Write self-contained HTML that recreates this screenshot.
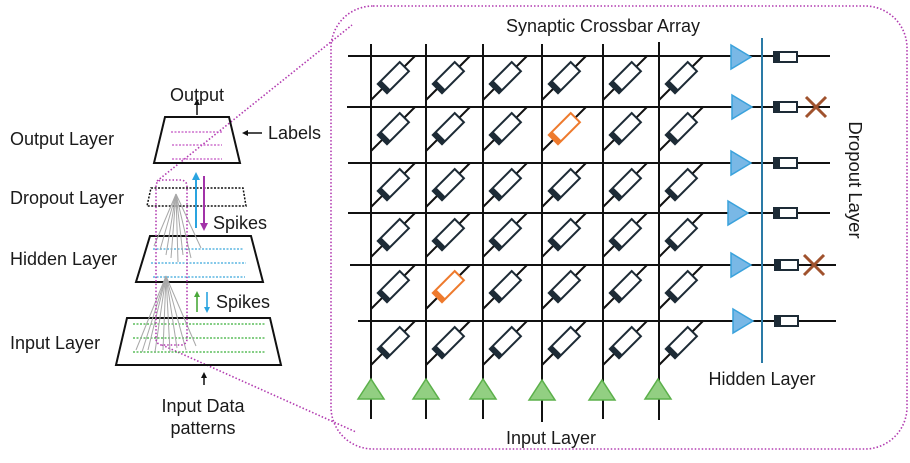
<!DOCTYPE html>
<html><head><style>
html,body{margin:0;padding:0;background:#fff;}
svg{display:block;}
text{font-family:"Liberation Sans",sans-serif;fill:#1a1a1a;}
</style></head><body>
<svg width="910" height="463" viewBox="0 0 910 463" xmlns="http://www.w3.org/2000/svg">
<defs>
<g id="r">
<line x1="0" y1="44" x2="44" y2="0" stroke="#111" stroke-width="2"/>
<g transform="translate(22,22) rotate(-45)">
<rect x="-15" y="-6.5" width="31" height="13" fill="#fff" stroke="#1d2b36" stroke-width="2"/>
<rect x="-15" y="-6.5" width="5" height="13" fill="#1d2b36"/>
</g>
</g>
<g id="ro">
<line x1="0" y1="44" x2="44" y2="0" stroke="#111" stroke-width="2"/>
<g transform="translate(22,22) rotate(-45)">
<rect x="-15" y="-6.5" width="31" height="13" fill="#fff" stroke="#ee7a2d" stroke-width="2"/>
<rect x="-15" y="-6.5" width="5" height="13" fill="#ee7a2d"/>
</g>
</g>
<g id="d">
<rect x="0" y="-5" width="23" height="10" fill="#fff" stroke="#1d2b36" stroke-width="2"/>
<rect x="0" y="-5" width="6" height="10" fill="#1d2b36"/>
</g>
<g id="bt"><polygon points="0,-12 20,0 0,12" fill="#79b8e6" stroke="#3aa2dc" stroke-width="1.5"/></g>
<g id="gt"><polygon points="-13,0 0,-20 13,0" fill="#92cf82" stroke="#5bb04a" stroke-width="1.5"/></g>
<g id="x"><line x1="-10" y1="-10" x2="10" y2="10" stroke="#a0522d" stroke-width="3"/><line x1="-10" y1="10" x2="10" y2="-10" stroke="#a0522d" stroke-width="3"/></g>
</defs>

<rect x="331" y="6" width="576" height="443" rx="42" fill="none" stroke="#b23bb0" stroke-width="1.6" stroke-dasharray="1.5,2"/>
<line x1="157" y1="181" x2="352" y2="25" stroke="#b23bb0" stroke-width="1.6" stroke-dasharray="1.5,2"/>
<line x1="162" y1="345" x2="356" y2="432" stroke="#b23bb0" stroke-width="1.6" stroke-dasharray="1.5,2"/>

<g stroke="#111" stroke-width="2">
<line x1="348" y1="56" x2="830" y2="56"/>
<line x1="347" y1="107" x2="830" y2="107"/>
<line x1="348" y1="163" x2="830" y2="163"/>
<line x1="348" y1="213" x2="830" y2="213"/>
<line x1="350" y1="265" x2="836" y2="265"/>
<line x1="358" y1="321" x2="836" y2="321"/>
<line x1="371" y1="44" x2="371" y2="419"/>
<line x1="426" y1="44" x2="426" y2="419"/>
<line x1="483" y1="44" x2="483" y2="419"/>
<line x1="542" y1="44" x2="542" y2="422"/>
<line x1="603" y1="44" x2="603" y2="419"/>
<line x1="659" y1="42" x2="659" y2="420"/>
</g>

<use href="#r" x="371" y="56"/><use href="#r" x="426" y="56"/><use href="#r" x="483" y="56"/><use href="#r" x="542" y="56"/><use href="#r" x="603" y="56"/><use href="#r" x="659" y="56"/>
<use href="#r" x="371" y="107"/><use href="#r" x="426" y="107"/><use href="#r" x="483" y="107"/><use href="#ro" x="542" y="107"/><use href="#r" x="603" y="107"/><use href="#r" x="659" y="107"/>
<use href="#r" x="371" y="163"/><use href="#r" x="426" y="163"/><use href="#r" x="483" y="163"/><use href="#r" x="542" y="163"/><use href="#r" x="603" y="163"/><use href="#r" x="659" y="163"/>
<use href="#r" x="371" y="213"/><use href="#r" x="426" y="213"/><use href="#r" x="483" y="213"/><use href="#r" x="542" y="213"/><use href="#r" x="603" y="213"/><use href="#r" x="659" y="213"/>
<use href="#r" x="371" y="265"/><use href="#ro" x="426" y="265"/><use href="#r" x="483" y="265"/><use href="#r" x="542" y="265"/><use href="#r" x="603" y="265"/><use href="#r" x="659" y="265"/>
<use href="#r" x="371" y="321"/><use href="#r" x="426" y="321"/><use href="#r" x="483" y="321"/><use href="#r" x="542" y="321"/><use href="#r" x="603" y="321"/><use href="#r" x="659" y="321"/>

<use href="#bt" x="731" y="57"/><use href="#bt" x="732" y="107"/><use href="#bt" x="731" y="163"/><use href="#bt" x="728" y="213"/><use href="#bt" x="731" y="265"/><use href="#bt" x="733" y="321"/>
<line x1="762" y1="38" x2="762" y2="363" stroke="#2a7aa6" stroke-width="2"/>
<use href="#d" x="774" y="57"/><use href="#d" x="774" y="107"/><use href="#d" x="774" y="163"/><use href="#d" x="774" y="213"/><use href="#d" x="775" y="265"/><use href="#d" x="775" y="321"/>
<use href="#x" x="816" y="107"/><use href="#x" x="814" y="265"/>

<use href="#gt" x="371" y="399"/><use href="#gt" x="426" y="399"/><use href="#gt" x="483" y="399"/><use href="#gt" x="542" y="400"/><use href="#gt" x="602" y="400"/><use href="#gt" x="658" y="399"/>

<text x="603" y="32" font-size="18" text-anchor="middle">Synaptic Crossbar Array</text>
<text x="762" y="385" font-size="18" text-anchor="middle">Hidden Layer</text>
<text x="551" y="444" font-size="18" text-anchor="middle">Input Layer</text>
<text transform="translate(849,180) rotate(90)" font-size="18.5" text-anchor="middle">Dropout Layer</text>

<g font-size="18">
<text x="197" y="101" text-anchor="middle">Output</text>
<text x="10" y="145">Output Layer</text>
<text x="10" y="204">Dropout Layer</text>
<text x="10" y="265">Hidden Layer</text>
<text x="10" y="349">Input Layer</text>
<text x="268" y="139">Labels</text>
<text x="213" y="229">Spikes</text>
<text x="216" y="308">Spikes</text>
<text x="203" y="412" text-anchor="middle">Input Data</text>
<text x="203" y="434" text-anchor="middle">patterns</text>
</g>
<g fill="none" stroke="#111" stroke-width="2">
<polygon points="165,117 229,117 240,163 154,163"/>
<polygon points="150,236 251,236 263,282 136,282"/>
<polygon points="127,318 270,318 281,365 116,365"/>
</g>
<polygon points="151,188 243,188 246,206 147,206" fill="none" stroke="#111" stroke-width="1.5" stroke-dasharray="2,1.5"/>
<line x1="197" y1="115" x2="197" y2="104" stroke="#111" stroke-width="1.5"/>
<polygon points="194,105 200,105 197,99" fill="#111"/>
<line x1="262" y1="133" x2="247" y2="133" stroke="#111" stroke-width="1.5"/>
<polygon points="248,130 248,136 242,133" fill="#111"/>
<line x1="204" y1="385" x2="204" y2="377" stroke="#111" stroke-width="1.5"/>
<polygon points="201,378 207,378 204,372" fill="#111"/>
<g stroke-width="1.3" stroke-dasharray="2,1.5" fill="none">
<g stroke="#c454c4"><line x1="171" y1="132" x2="222" y2="132"/><line x1="172" y1="145" x2="222" y2="145"/><line x1="172" y1="159" x2="222" y2="159"/></g>
<g stroke="#3aa8dc"><line x1="153" y1="249" x2="244" y2="249"/><line x1="151" y1="263" x2="246" y2="263"/><line x1="153" y1="277" x2="245" y2="277"/></g>
<g stroke="#3bb03b"><line x1="133" y1="324" x2="265" y2="324"/><line x1="133" y1="338" x2="265" y2="338"/><line x1="133" y1="352" x2="265" y2="352"/></g>
</g>
<g stroke="#a8a8a8" stroke-width="1">
<line x1="176" y1="194" x2="154" y2="246"/><line x1="176" y1="194" x2="160" y2="250"/><line x1="176" y1="194" x2="166" y2="255"/><line x1="176" y1="194" x2="171" y2="258"/><line x1="176" y1="194" x2="178" y2="262"/><line x1="176" y1="194" x2="183" y2="255"/><line x1="176" y1="194" x2="191" y2="258"/><line x1="176" y1="194" x2="201" y2="248"/>
<line x1="166" y1="276" x2="136" y2="350"/><line x1="166" y1="276" x2="142" y2="352"/><line x1="166" y1="276" x2="148" y2="350"/><line x1="166" y1="276" x2="155" y2="352"/><line x1="166" y1="276" x2="163" y2="350"/><line x1="166" y1="276" x2="170" y2="352"/><line x1="166" y1="276" x2="177" y2="348"/><line x1="166" y1="276" x2="186" y2="350"/><line x1="166" y1="276" x2="196" y2="346"/>
</g>
<rect x="156" y="180" width="31" height="165" rx="6" fill="none" stroke="#b23bb0" stroke-width="1.6" stroke-dasharray="1.5,2"/>
<line x1="196" y1="228" x2="196" y2="179" stroke="#2aa4e0" stroke-width="2"/>
<polygon points="192,180 200,180 196,172" fill="#2aa4e0"/>
<line x1="204" y1="176" x2="204" y2="224" stroke="#a233a8" stroke-width="2"/>
<polygon points="200,223 208,223 204,231" fill="#a233a8"/>
<line x1="197" y1="312" x2="197" y2="297" stroke="#4aa83a" stroke-width="1.6"/>
<polygon points="194,297 200,297 197,291" fill="#4aa83a"/>
<line x1="207" y1="292" x2="207" y2="307" stroke="#2aa4e0" stroke-width="1.6"/>
<polygon points="204,307 210,307 207,313" fill="#2aa4e0"/>
</svg>
</body></html>
